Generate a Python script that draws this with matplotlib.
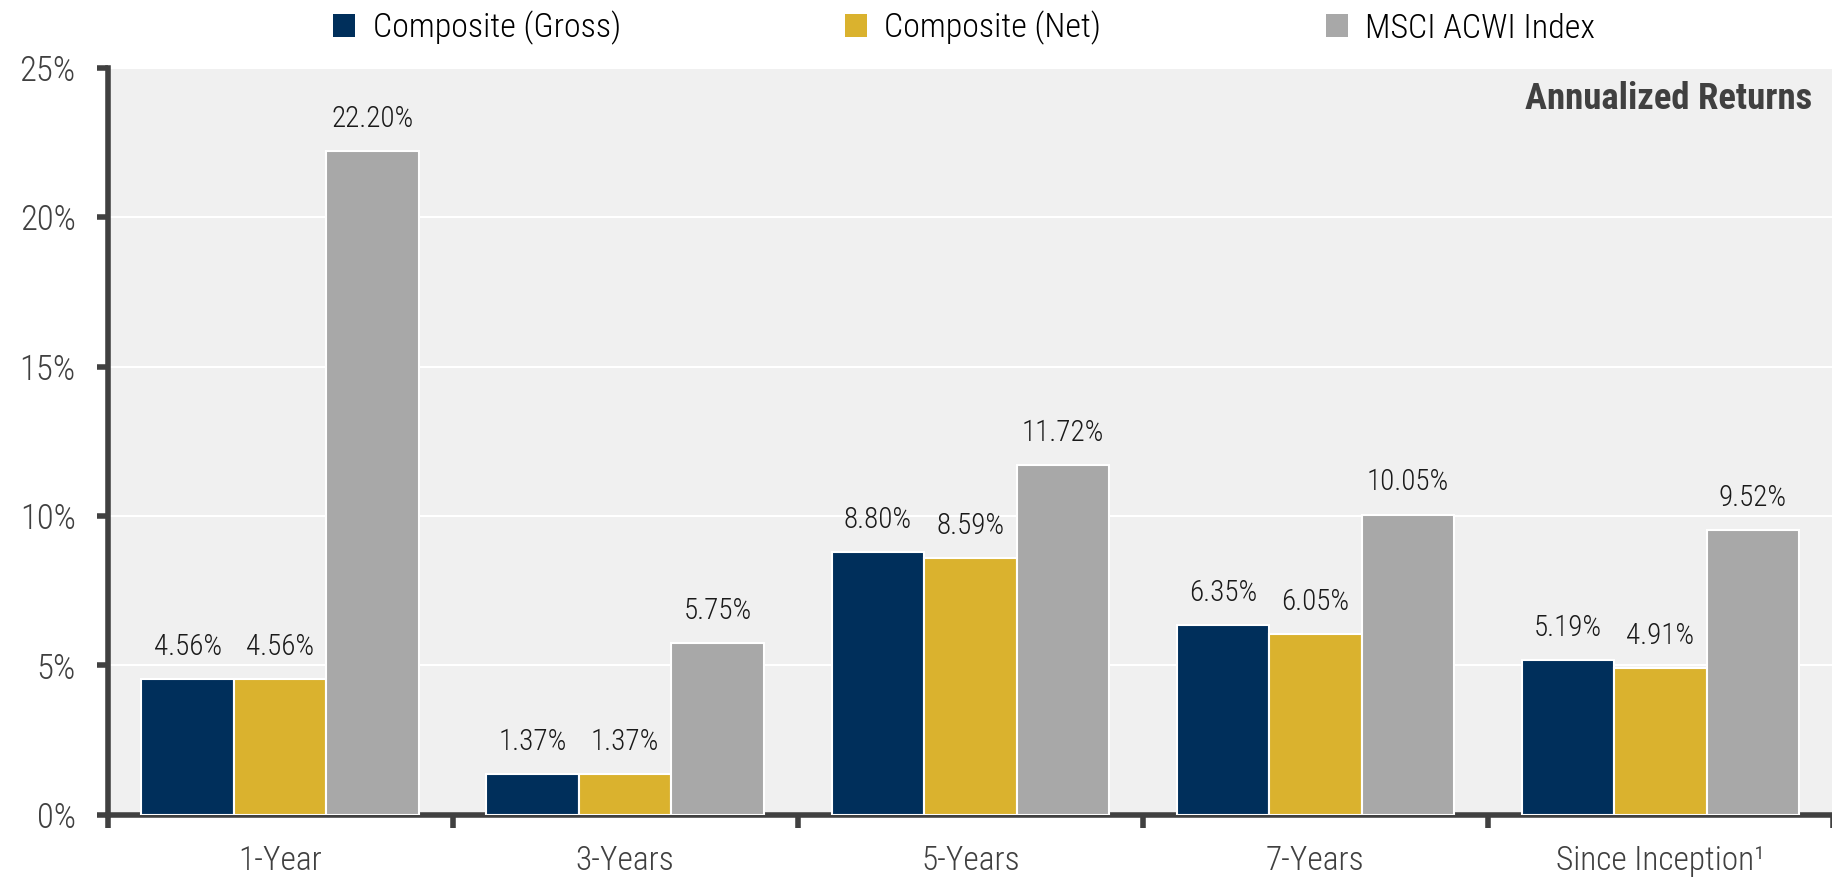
import matplotlib
matplotlib.use("Agg")
import matplotlib.pyplot as plt
from matplotlib.patches import Patch
import numpy as np

categories = ["1-Year", "3-Years", "5-Years", "7-Years", "Since Inception\u00b9"]
gross = [4.56, 1.37, 8.80, 6.35, 5.19]
net = [4.56, 1.37, 8.59, 6.05, 4.91]
msci = [22.20, 5.75, 11.72, 10.05, 9.52]
series_names = ["Composite (Gross)", "Composite (Net)", "MSCI ACWI Index"]
yticks = [0, 5, 10, 15, 20, 25]
title = "Annualized Returns"

colors = ["#002F5B", "#DAB22E", "#A8A8A8"]
plt.rcParams['font.family'] = ['Roboto Condensed', 'Liberation Sans Narrow', 'DejaVu Sans']
plt.rcParams['font.weight'] = 'light'

fig = plt.figure(figsize=(18.33, 8.8), dpi=100)
ax = fig.add_axes([0.0587, 0.074, 0.9413, 0.849])
ax.set_facecolor("#F0F0F0")

x = np.arange(len(categories))
w = 0.268
for i, (vals, c) in enumerate(zip([gross, net, msci], colors)):
    pos = x + (i - 1) * w
    bars = ax.bar(pos, vals, width=w, color=c, edgecolor="white", linewidth=1.5, zorder=3)
    for b, v in zip(bars, vals):
        ax.annotate(f"{v:.2f}%", (b.get_x() + b.get_width() / 2, v),
                    xytext=(0, 13), textcoords="offset points",
                    ha="center", va="bottom", fontsize=21, color="#1a1a1a")

ax.set_xlim(-0.5, len(categories) - 0.5)
ax.set_ylim(0, 25)
ax.set_yticks(yticks)
ax.set_yticklabels([f"{t}%" for t in yticks])
ax.yaxis.grid(True, color="white", linewidth=1.5, zorder=0)
ax.set_axisbelow(True)

ax.set_xticks(np.arange(-0.5, len(categories), 1.0))
ax.set_xticklabels([])
ax.set_xticks(x, minor=True)
ax.set_xticklabels(categories, minor=True)
ax.tick_params(axis="x", which="major", length=9, width=4, color="#404040", direction="out")
ax.tick_params(axis="x", which="minor", length=0, pad=22, labelsize=24, labelcolor="#404040")
ax.tick_params(axis="y", length=8, width=4, color="#404040", labelsize=25, labelcolor="#404040", pad=15)

for s in ["top", "right"]:
    ax.spines[s].set_visible(False)
for s in ["left", "bottom"]:
    ax.spines[s].set_color("#404040")
    ax.spines[s].set_linewidth(4)

ax.text(0.988, 0.958, title, transform=ax.transAxes, ha="right", va="center",
        fontsize=26.5, fontweight="bold", color="#404040")

handles = [Patch(facecolor=c, edgecolor="none") for c in colors]
fig.legend(handles, series_names, loc="center", bbox_to_anchor=(0.526, 0.968), ncol=3,
           frameon=False, fontsize=24.5, handlelength=0.65, handleheight=0.65,
           handletextpad=0.5, columnspacing=6.6)

fig.savefig("out.png", dpi=100)
